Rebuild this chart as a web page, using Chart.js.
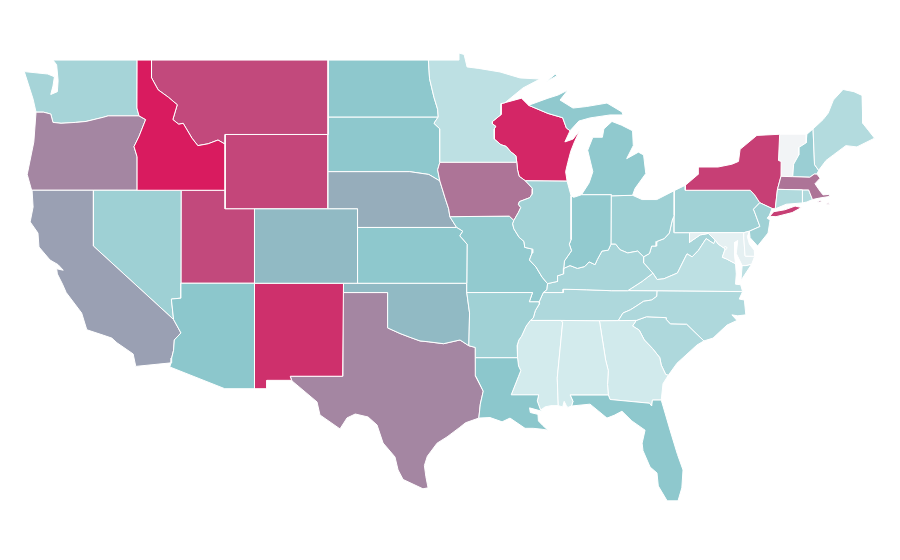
<!DOCTYPE html>
<html>
<head>
<meta charset="utf-8">
<title>US states</title>
<script src="https://cdn.jsdelivr.net/npm/chart.js@4"></script>
<style>
html, body { margin: 0; padding: 0; background: #fff; }
canvas { display: block; }
</style>
</head>
<body>
<canvas id="map" width="900" height="560"></canvas>
<script>
const rev = a => [...a].reverse();

// shared borders, [lon, lat]
const mnWi = [[-92.02,46.71],[-92.29,46.66],[-92.29,46.07],[-92.87,45.7],[-92.88,45.57],[-92.65,45.44],[-92.76,45.29],[-92.75,44.75],[-92.3,44.45],[-91.95,44.36],[-91.62,44.06],[-91.28,43.85],[-91.22,43.5]];
const iaWi = [[-91.22,43.5],[-91.17,43.1],[-91.06,42.75],[-90.64,42.51]];
const iaIl = [[-90.64,42.51],[-90.42,42.33],[-90.15,42.1],[-90.17,41.8],[-90.34,41.6],[-91.04,41.39],[-91.11,41.24],[-90.95,41.07],[-91.1,40.82],[-91.42,40.38]];
const ilMo = [[-91.42,40.38],[-91.5,40.2],[-91.42,39.93],[-91.06,39.47],[-90.73,39.25],[-90.68,38.93],[-90.12,38.83],[-90.18,38.63],[-90.36,38.25],[-89.91,37.87],[-89.5,37.33],[-89.13,36.98]];
const kyMo = [[-89.13,36.98],[-89.17,36.65],[-89.42,36.5]];
const tnMo = [[-89.42,36.5],[-89.7,36]];
const tnAr = [[-89.7,36],[-89.67,35.9],[-89.96,35.53],[-90.1,35.13],[-90.3,35]];
const arMs = [[-90.3,35],[-90.58,34.7],[-90.9,34.15],[-91.08,33.95],[-91.2,33.65],[-91.17,33]];
const laMs = [[-91.17,33],[-91.1,32.55],[-90.95,32.3],[-91.1,32],[-91.6,31],[-89.73,31],[-89.83,30.67],[-89.6,30.18]];
const ilKy = [[-89.13,36.98],[-88.45,37.1],[-88.45,37.4],[-88.07,37.5],[-88.03,37.8]];
const inKy = [[-88.03,37.8],[-87.6,37.95],[-87.1,37.8],[-86.6,37.9],[-86.3,38.15],[-85.9,38],[-85.75,38.27],[-85.43,38.73],[-85,38.78],[-84.82,39.1]];
const ohKy = [[-84.82,39.1],[-84.5,39.1],[-84.2,38.8],[-83.68,38.63],[-83,38.73],[-82.6,38.42]];
const ohWv = [[-82.6,38.42],[-82.2,38.6],[-82.05,39],[-81.75,39],[-81.7,39.25],[-81.2,39.4],[-80.85,39.7],[-80.65,40.4],[-80.52,40.64]];
const kyWv = [[-82.6,38.42],[-82.6,38.1],[-81.97,37.54]];
const kyVa = [[-81.97,37.54],[-82.7,37.1],[-83.68,36.6]];
const kyTn = [[-83.68,36.6],[-84.8,36.6],[-86.5,36.65],[-88.07,36.68],[-88.07,36.5],[-89.42,36.5]];
const tnVa = [[-83.68,36.6],[-81.68,36.59]];
const ncVa = [[-81.68,36.59],[-75.87,36.55]];
const tnNc = [[-81.68,36.59],[-81.7,36.3],[-82.05,36.1],[-82.6,36.03],[-83.1,35.77],[-83.5,35.57],[-84,35.4],[-84.32,34.99]];
const tnMs = [[-90.3,35],[-88.2,35]];
const tnAl = [[-88.2,35],[-85.6,34.98]];
const tnGa = [[-85.6,34.98],[-84.32,34.99]];
const ncGa = [[-84.32,34.99],[-83.1,35]];
const ncSc = [[-83.1,35],[-82.4,35.2],[-81.05,35.15],[-81.05,35.05],[-80.78,34.82],[-79.67,34.8],[-78.5,33.9]];
const gaSc = [[-83.1,35],[-83.35,34.7],[-82.9,34.48],[-82.55,33.95],[-82,33.5],[-81.5,33],[-81.4,32.6],[-81.1,32.1],[-80.92,32.05]];
const alGa = [[-85.6,34.98],[-85.18,32.87],[-85,32.3],[-85.05,31.55],[-85,31]];
const alFl = [[-87.5,30.4],[-87.4,30.65],[-87.6,31],[-85,31]];
const gaFl = [[-85,31],[-84.88,30.75],[-82.2,30.55],[-82.05,30.4],[-82,30.72],[-81.4,30.72]];
const alMs = [[-88.2,35],[-88.1,34.9],[-88.47,31.9],[-88.4,30.42]];
const msCoast = [[-89.6,30.18],[-89.3,30.35],[-88.9,30.42],[-88.4,30.42]];
const alCoast = [[-88.4,30.42],[-88.1,30.35],[-88,30.65],[-87.85,30.42],[-87.75,30.32],[-87.5,30.4]];
const gaCoast = [[-81.4,30.72],[-81.28,31.6],[-80.92,32.05]];
const scCoast = [[-80.92,32.05],[-80.33,32.7],[-78.97,33.68],[-78.5,33.9]];
const ncCoast = [[-78.5,33.9],[-77.88,34.05],[-76.93,34.75],[-76.25,35],[-76.6,35.3],[-76.2,35.25],[-75.65,35.3],[-75.75,36.1],[-76.1,36.15],[-75.87,36.55]];
const potomac = [[-76.35,38.05],[-76.95,38.3],[-77.25,38.4],[-77.05,38.85],[-77.52,39.1],[-77.73,39.32]];
const mdWv = [[-77.73,39.32],[-78.2,39.68],[-78.75,39.6],[-79.48,39.2],[-79.48,39.72]];
const vaWv = [[-77.73,39.32],[-77.83,39.13],[-78.35,39.4],[-78.87,38.77],[-79.3,38.42],[-79.65,38.58],[-80.3,37.55],[-81.22,37.24],[-81.68,37.2],[-81.97,37.54]];
const mdPa = [[-79.48,39.72],[-75.79,39.72]];
const paWv = [[-80.52,40.64],[-80.52,39.72],[-79.48,39.72]];
const dePa = [[-75.79,39.72],[-75.41,39.8]];
const njPa = [[-75.41,39.8],[-74.69,40.05],[-75.03,40.78],[-75.13,40.98],[-74.7,41.33]];
const nyPa = [[-74.7,41.33],[-75.05,41.75],[-75.35,42],[-79.76,42],[-79.76,42.27]];
const njNy = [[-74.7,41.33],[-73.87,41.02]];
const ctNy = [[-73.65,41],[-73.5,42.05]];
const maNy = [[-73.5,42.05],[-73.26,42.75]];
const nyVt = [[-73.26,42.75],[-73.25,43.55],[-73.43,43.6],[-73.35,45.01]];
const nhVt = [[-72.46,42.73],[-72.4,43.4],[-72.05,43.9],[-72.05,44.3],[-71.55,44.55],[-71.5,45.01]];
const maNh = [[-72.46,42.73],[-71.3,42.7],[-71,42.87],[-70.82,42.87]];
const meNh = [[-70.7,43.07],[-70.98,43.38],[-71.08,45.3]];
const ctMa = [[-73.5,42.05],[-71.8,42.02]];
const ctRi = [[-71.8,42.02],[-71.8,41.32]];
const maRi = [[-71.8,42.02],[-71.38,42.02],[-71.12,41.5]];
const wabash = [[-87.53,41.71],[-87.53,39.35],[-87.65,39.1],[-87.5,38.75],[-87.98,38.2],[-88.03,37.8]];
const inMi = [[-86.82,41.76],[-84.8,41.76]];
const miOh = [[-84.8,41.76],[-84.8,41.7],[-83.35,41.73]];
const inOh = [[-84.8,41.76],[-84.82,39.1]];
const wiUp = [[-90.42,46.57],[-89.1,46.13],[-88.1,45.9],[-87.85,45.35],[-87.6,45.2]];
const mnNd = [[-97.23,49],[-97.15,48],[-96.85,47],[-96.6,46.35],[-96.56,45.94]];
const mnSd = [[-96.56,45.94],[-96.85,45.6],[-96.45,45.3],[-96.45,43.5]];
const iaMn = [[-96.45,43.5],[-91.22,43.5]];
const iaSd = [[-96.45,43.5],[-96.6,43.1],[-96.45,42.5]];
const neSd = [[-96.45,42.5],[-97.2,42.85],[-98.5,43],[-104.05,43]];
const iaNe = [[-96.45,42.5],[-96.1,41.6],[-95.85,41],[-95.77,40.58]];
const iaMo = [[-95.77,40.58],[-91.73,40.61],[-91.42,40.38]];
const moNe = [[-95.77,40.58],[-95.31,40]];
const ksMo = [[-95.31,40],[-94.9,39.8],[-95.1,39.55],[-94.6,39.1],[-94.62,37]];
const moOk = [[-94.62,37],[-94.62,36.5]];
const arMo = [[-94.62,36.5],[-90.15,36.5],[-90.37,36],[-89.7,36]];
const arOk = [[-94.62,36.5],[-94.43,35.4],[-94.48,33.64]];
const arTx = [[-94.48,33.64],[-94.04,33.55],[-94.04,33]];
const arLa = [[-94.04,33],[-91.17,33]];
const laTx = [[-94.04,33],[-94,32],[-93.5,31.2],[-93.7,30.5],[-93.8,29.75]];
const redRiver = [[-100,34.6],[-99.16,34.3],[-98.5,34.1],[-97.8,33.9],[-97.2,33.85],[-96.2,33.75],[-95.08,33.95],[-94.48,33.64]];
const azCa = [[-114.55,35.05],[-114.05,34.33],[-114.5,33.95],[-114.55,33.4],[-114.68,32.98],[-114.72,32.72]];
const azNv = [[-114.05,37],[-114.05,36.2],[-114.7,36.15],[-114.55,35.05]];
const caNv = [[-120,42],[-120,39],[-114.55,35.05]];
const idMt = [[-116.05,49],[-116.05,48.05],[-115.6,47.4],[-114.9,47],[-114.3,46.6],[-114.6,45.8],[-114.2,45.55],[-113.9,45.6],[-113.3,44.8],[-112.9,44.4],[-112.2,44.5],[-111.53,44.7],[-111.05,44.48]];
const idOr = [[-117.03,42],[-117.03,43.8],[-117.24,44.35],[-116.9,44.9],[-116.45,45.8],[-116.9,46]];
const orWa = [[-116.9,46],[-119,46],[-119.3,45.93],[-120.5,45.7],[-121.2,45.65],[-122.2,45.6],[-122.75,45.65],[-122.9,46.1],[-123.4,46.2],[-123.9,46.2]];

// state outlines
const alabama = [...rev(alMs),...tnAl,...alGa,...rev(alFl),...rev(alCoast)];
const arizona = [[-114.05,37],[-109.05,37],[-109.05,31.33],[-111.07,31.33],[-114.81,32.5],...rev(azCa),...rev(azNv)];
const arkansas = [...arMo,...tnAr,...arMs,...rev(arLa),...rev(arTx),...rev(arOk)];
const california = [...caNv,...azCa,[-117.12,32.53],[-117.3,33.2],[-118.4,33.8],[-118.75,34.05],[-119.3,34.2],[-120.45,34.5],[-120.8,35.4],[-121.85,36.5],[-122.1,36.95],[-122.45,37.5],[-122.5,37.78],[-122.05,37.7],[-122.4,38],[-122.95,38.25],[-123.7,38.95],[-123.77,39.7],[-124.3,40.3],[-124.1,41.1],[-124.17,42]];
const colorado = [[-109.05,41],[-102.05,41],[-102.05,40],[-102.04,37],[-109.05,37]];
const connecticut = [...ctNy,...ctMa,...ctRi,[-72.9,41.25]];
const delaware = [...dePa,[-75.55,39.5],[-75.4,39.1],[-75.08,38.78],[-75.05,38.45],[-75.7,38.46],[-75.79,39.45]];
const dc = [[-77.12,38.93],[-77.04,39],[-76.91,38.89],[-77.04,38.79]];
const florida = [[-87.5,30.4],[-86.24,30.5],[-85.7,30.15],[-85.09,29.75],[-84.6,29.9],[-84.07,30.12],[-83.4,29.6],[-82.5,29.1],[-82.7,28.4],[-82.64,28],[-82.16,27.12],[-81.69,26.8],[-81.6,26.1],[-81,25.3],[-80.26,25.3],[-80,26],[-79.92,26.96],[-80.3,27.8],[-80.8,29.1],[-81.28,30.4],...rev(gaFl),...rev(alFl)];
const georgia = [...tnGa,...ncGa,...gaSc,...rev(gaCoast),...rev(gaFl),...rev(alGa)];
const idaho = [[-117.03,49],...idMt,[-111.05,42],...idOr,[-117.04,46.42]];
const illinois = [[-90.64,42.51],[-87.8,42.49],...wabash,...rev(ilKy),...rev(ilMo),...rev(iaIl)];
const indiana = [[-87.53,41.71],[-87.35,41.62],...inMi,...inOh,...rev(inKy),...rev(wabash)];
const iowa = [...iaMn,...iaWi,...iaIl,...rev(iaMo),...rev(iaNe),...rev(iaSd)];
const kansas = [[-102.05,40],...ksMo,[-102.04,37]];
const kentucky = [...ilKy,...inKy,...ohKy,...kyWv,...kyVa,...kyTn,...rev(kyMo)];
const louisiana = [...arLa,...laMs,[-89.44,30.1],[-90.35,30.3],[-90.3,30.05],[-89.78,29.95],[-89.75,29.6],[-89.45,29.35],[-89.1,29.1],[-89.5,29.15],[-90.1,29.2],[-90.66,29.2],[-91.68,29.75],[-92.22,29.55],[-93.04,29.78],...rev(laTx)];
const maine = [...meNh,[-70.4,45.8],[-70.05,46.15],[-69.7,46.85],[-69.04,47.42],[-68.3,47.3],[-67.75,47.1],[-67.7,45.6],[-67.3,45.2],[-66.9,44.8],[-68.1,44.33],[-68.85,44.4],[-69.7,43.9],[-70.2,43.6]];
const maryland = [...mdPa,[-75.79,39.45],[-75.7,38.46],[-75.05,38.45],[-75.25,38.03],[-75.65,37.95],[-75.9,37.95],[-76.3,38.6],[-76.2,39.3],[-76.4,39.2],[-76.42,38.5],...potomac,...mdWv];
const massachusetts = [...maNy,[-72.46,42.73],...maNh,[-70.6,42.65],[-70.95,42.35],[-70.6,41.95],[-70.4,41.75],[-70,41.78],[-69.95,41.67],[-70.65,41.58],...rev(maRi),...rev(ctMa)];
const marthasVineyard = [[-70.8,41.35],[-70.5,41.38],[-70.6,41.47]];
const nantucket = [[-70.2,41.25],[-69.97,41.25],[-70.05,41.33]];
const michiganLower = [...inMi,...miOh,[-83.18,42.1],[-82.45,42.9],[-82.6,43.9],[-82.95,44.05],[-83.75,43.7],[-83.3,44.4],[-83.35,45.2],[-84.1,45.5],[-84.75,45.7],[-85.3,45.3],[-85.4,44.85],[-86.05,44.85],[-86.4,44.15],[-86.05,43],[-86.3,42.4]];
const michiganUpper = [[-90.42,46.57],[-89.1,46.95],[-88.42,47.12],[-87.74,47.39],[-88.28,46.85],[-87.4,46.42],[-86.5,46.5],[-85.09,46.69],[-84.07,46.21],[-84,46.05],[-84.88,46.05],[-86.24,45.89],[-87,45.72],...rev(wiUp)];
const isleRoyale = [[-89.2,47.85],[-88.5,48.15],[-88.6,48.25]];
const minnesota = [[-97.23,49],[-95.15,49],[-95.15,49.38],[-94.8,49.3],[-94.6,48.63],[-93.8,48.55],[-92.36,48.36],[-91,48.04],[-89.64,47.98],[-90.8,47.5],...mnWi,...rev(iaMn),...rev(mnSd),...rev(mnNd)];
const mississippi = [...tnMs,...alMs,...rev(msCoast),...rev(laMs),...rev(arMs)];
const missouri = [...iaMo,...ilMo,...kyMo,...tnMo,...rev(arMo),...rev(moOk),...rev(ksMo),...rev(moNe)];
const montana = [[-116.05,49],[-104.05,49],[-104.05,45],[-111.05,45],...rev(idMt)];
const nebraska = [...rev(neSd),...iaNe,...moNe,[-102.05,40],[-102.05,41],[-104.05,41]];
const nevada = [[-120,42],[-114.04,42],...azNv,...rev(caNv)];
const newHampshire = [...rev(nhVt),...maNh,...meNh];
const newJersey = [...njPa,...njNy,[-74.05,40.65],[-74.2,40.5],[-74,40.4],[-74.14,39.7],[-74.85,39],[-75.36,39.45]];
const newMexico = [[-109.05,37],[-103,37],[-103.06,32],[-106.62,32],[-106.53,31.78],[-108.21,31.78],[-108.21,31.33],[-109.05,31.33]];
const newYork = [...rev(nyPa),...njNy,[-73.65,41],...ctNy,...maNy,...nyVt,[-74.9,44.95],[-76.04,44.2],[-76.15,43.55],[-76.6,43.4],[-77.54,43.25],[-78.9,43.25],[-78.9,42.85]];
const longIsland = [[-74.03,40.6],[-73.75,40.85],[-73,40.95],[-72.3,41.15],[-71.87,41.07],[-72.5,40.8],[-73.6,40.58]];
const northCarolina = [...ncVa,...rev(ncCoast),...rev(ncSc),...rev(ncGa),...rev(tnNc)];
const northDakota = [[-104.05,49],...mnNd,[-104.05,45.94]];
const ohio = [...miOh,[-82.7,41.5],[-81.7,41.5],[-80.52,41.98],[-80.52,40.64],...rev(ohWv),...rev(ohKy),...rev(inOh)];
const oklahoma = [[-103,37],...moOk,...arOk,...rev(redRiver),[-100,36.5],[-103,36.5]];
const oregon = [[-124.2,42],...idOr,...orWa,[-124.05,44.6],[-124.5,42.85]];
const pennsylvania = [[-80.52,41.98],...rev(nyPa),...rev(njPa),...rev(dePa),...rev(mdPa),...rev(paWv)];
const rhodeIsland = [...maRi,[-71.5,41.37],[-71.8,41.32]];
const southCarolina = [...ncSc,...rev(scCoast),...rev(gaSc)];
const southDakota = [[-104.05,45.94],...mnSd,...iaSd,...neSd];
const tennessee = [...tnVa,...tnNc,...rev(tnGa),...rev(tnAl),...rev(tnMs),...rev(tnAr),...rev(tnMo),...rev(kyTn)];
const texas = [[-103.04,36.5],[-100,36.5],...redRiver,...arTx,...laTx,[-94.7,29.5],[-95.1,29.25],[-95.96,28.74],[-96.64,28.4],[-97.3,27.7],[-97.5,27.2],[-97.4,26.6],[-97.25,26],[-97.6,25.95],[-98.95,26.45],[-99.29,26.96],[-99.5,27.66],[-100.31,28.41],[-100.72,29.38],[-101.33,29.81],[-102.2,29.97],[-102.76,29.76],[-103.24,29.17],[-104.6,29.92],[-104.8,30.62],[-106.5,31.75],[-106.62,32],[-103.06,32]];
const utah = [[-114.04,42],[-111.05,42],[-111.05,41],[-109.05,41],[-109.05,37],[-114.05,37]];
const vermont = [...rev(nyVt),...nhVt];
const virginia = [...tnVa,...ncVa,[-76,36.92],[-76.35,36.95],[-76.3,37.5],...potomac,...vaWv,...kyVa];
const virginiaShore = [[-75.98,37.15],[-75.9,37.95],[-75.65,37.95],[-75.25,38.03]];
const washington = [...rev(orWa),[-117.04,46.42],[-117.03,49],[-122.75,49],[-122.5,48.75],[-122.4,47.9],[-122.45,47.3],[-122.9,47.15],[-122.75,47.6],[-122.65,48.1],[-123.1,48.25],[-124.7,48.38],[-124.1,46.9]];
const westVirginia = [...ohWv,...paWv,...rev(mdWv),...vaWv,...rev(kyWv)];
const wisconsin = [[-92.02,46.71],[-90.9,46.95],...wiUp,[-87.95,44.6],[-87.4,44.75],[-86.95,45.2],[-87.3,44.6],[-87.55,44.1],[-87.75,43.5],[-87.9,43],[-87.8,42.49],...rev(iaWi),...rev(mnWi)];
const wyoming = [[-111.05,45],[-104.05,45],[-104.05,41],[-111.05,41]];

const stateNames = ['Alabama','Arizona','Arkansas','California','Colorado','Connecticut','Delaware','District of Columbia','Florida','Georgia','Idaho','Illinois','Indiana','Iowa','Kansas','Kentucky','Louisiana','Maine','Maryland','Massachusetts','Massachusetts','Massachusetts','Michigan','Michigan','Michigan','Minnesota','Mississippi','Missouri','Montana','Nebraska','Nevada','New Hampshire','New Jersey','New Mexico','New York','New York','North Carolina','North Dakota','Ohio','Oklahoma','Oregon','Pennsylvania','Rhode Island','South Carolina','South Dakota','Tennessee','Texas','Utah','Vermont','Virginia','Virginia','Washington','West Virginia','Wisconsin','Wyoming'];
const stateValues = [15,50,40,62,54,32,7,7,49,16,100,39,47,75,49,36,50,31,7,75,75,75,48,48,48,26,15,47,87,58,41,43,40,94,90,90,33,49,41,54,70,40,32,33,49,33,70,87,1,26,26,37,36,97,88];
const stateOutlines = [alabama,arizona,arkansas,california,colorado,connecticut,delaware,dc,florida,georgia,idaho,illinois,indiana,iowa,kansas,kentucky,louisiana,maine,maryland,massachusetts,marthasVineyard,nantucket,michiganLower,michiganUpper,isleRoyale,minnesota,mississippi,missouri,montana,nebraska,nevada,newHampshire,newJersey,newMexico,newYork,longIsland,northCarolina,northDakota,ohio,oklahoma,oregon,pennsylvania,rhodeIsland,southCarolina,southDakota,tennessee,texas,utah,vermont,virginia,virginiaShore,washington,westVirginia,wisconsin,wyoming];

// colour ramp, value -> rgb
const rampStops = [0,15,50,70,100];
const rampColors = [[244,245,247],[211,235,237],[140,199,204],[164,134,162],[217,27,95]];

function colorFor(v){
    let i = 0;
    while(i < rampStops.length - 2 && v > rampStops[i+1]) i++;
    const t = (v - rampStops[i]) / (rampStops[i+1] - rampStops[i]);
    const c = rampColors[i].map((a, k) => Math.round(a + (rampColors[i+1][k] - a) * t));
    return `rgb(${c[0]},${c[1]},${c[2]})`;
}

const datasets = stateOutlines.map((outline, i) => ({
    label: stateNames[i],
    data: [...outline, outline[0]].map(p => ({x: p[0], y: p[1]})),
    showLine: true,
    fill: 'shape',
    tension: 0,
    backgroundColor: colorFor(stateValues[i]),
    borderColor: '#fff',
    borderWidth: 1,
    pointRadius: 0
}));

new Chart(document.getElementById('map').getContext('2d'), {
    type: 'scatter',
    data: {datasets},
    options: {
        responsive: false,
        animation: false,
        layout: {padding: 0},
        plugins: {legend: {display: false}, tooltip: {enabled: false}},
        scales: {
            x: {type: 'linear', display: false, min: -126.35, max: -65.17},
            y: {type: 'linear', display: false, min: 22.12, max: 52.23}
        }
    }
});
</script>
</body>
</html>
